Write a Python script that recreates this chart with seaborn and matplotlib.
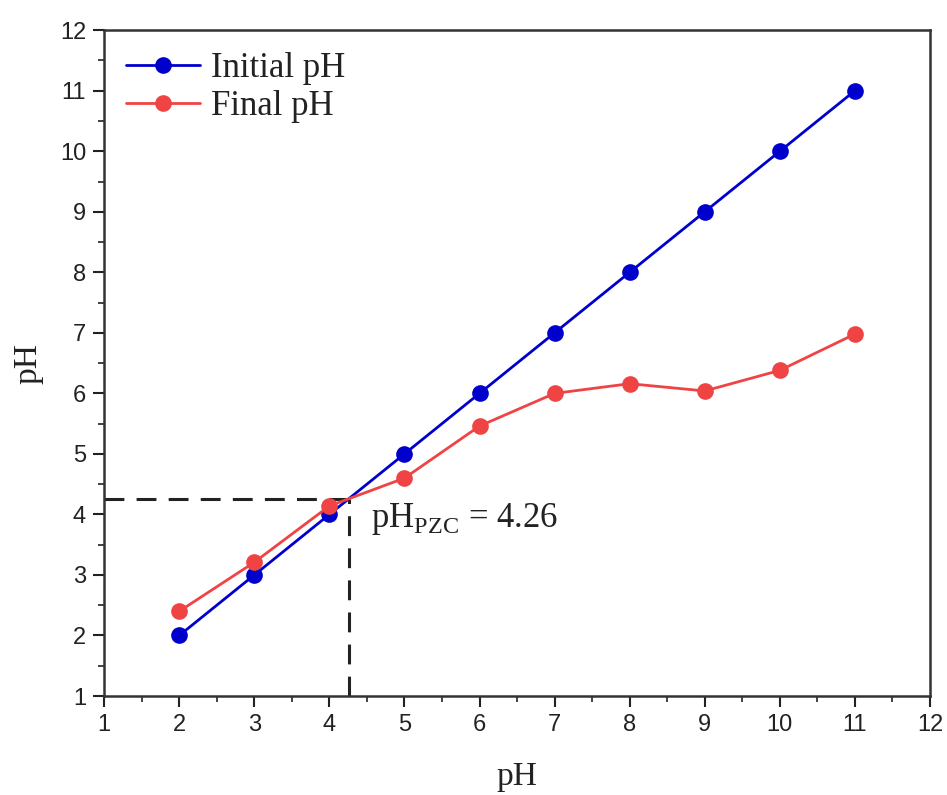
import matplotlib
matplotlib.use("Agg")
import matplotlib.pyplot as plt
import seaborn as sns
import pandas as pd
from matplotlib.ticker import MultipleLocator

initial_x = [2, 3, 4, 5, 6, 7, 8, 9, 10, 11]
initial_ph = [2, 3, 4, 5, 6, 7, 8, 9, 10, 11]
final_ph = [2.40, 3.21, 4.14, 4.60, 5.46, 6.00, 6.16, 6.04, 6.38, 6.98]
ph_pzc = 4.26

df = pd.DataFrame({
    "x": initial_x + initial_x,
    "y": initial_ph + final_ph,
    "series": ["Initial pH"] * len(initial_x) + ["Final pH"] * len(initial_x),
})

sns.set_theme(style="white")
plt.rcParams["font.family"] = ["Liberation Sans", "DejaVu Sans"]

fig = plt.figure(figsize=(9.47, 7.95), dpi=100)
ax = fig.add_axes([0.110, 0.1245, 0.872, 0.8375])

ax.plot([1, ph_pzc], [ph_pzc, ph_pzc], ls=(0, (6.5, 4)), color="#222222", lw=2.2)
ax.plot([ph_pzc, ph_pzc], [1, ph_pzc], ls=(0, (6.5, 4)), color="#222222", lw=2.2)

sns.lineplot(data=df, x="x", y="y", hue="series",
             palette={"Initial pH": "#0000CC", "Final pH": "#F04444"},
             marker="o", markersize=12, markeredgewidth=0, linewidth=2.0,
             ax=ax, legend=True)

ax.set_xlim(1, 12)
ax.set_ylim(1, 12)
ax.xaxis.set_major_locator(MultipleLocator(1))
ax.yaxis.set_major_locator(MultipleLocator(1))
ax.xaxis.set_minor_locator(MultipleLocator(0.5))
ax.yaxis.set_minor_locator(MultipleLocator(0.5))
ax.tick_params(which="major", direction="out", length=8, width=1.5, labelsize=17, pad=5,
               bottom=True, left=True, top=False, right=False, colors="#222222")
ax.tick_params(which="minor", direction="out", length=4, width=1.2,
               bottom=True, left=True, top=False, right=False, colors="#222222")
for s in ax.spines.values():
    s.set_color("#333333")
    s.set_linewidth(1.8)

ax.set_xlabel("pH", family="Liberation Serif", fontsize=24, color="#222222", labelpad=18)
ax.set_ylabel("pH", family="Liberation Serif", fontsize=24, color="#222222", labelpad=12)

ax.text(4.55, 3.92, r"pH$_{\mathregular{PZC}}$ = 4.26", family="Liberation Serif",
        fontsize=25, color="#222222", va="center", ha="left")

leg = ax.legend(loc="upper left", frameon=False, prop={"family": "Liberation Serif", "size": 25},
                handlelength=2.15, borderaxespad=0.32, labelspacing=0.15, handletextpad=0.3,
                borderpad=0.3)
for t in leg.get_texts():
    t.set_color("#222222")

fig.savefig("out.png", dpi=100)
